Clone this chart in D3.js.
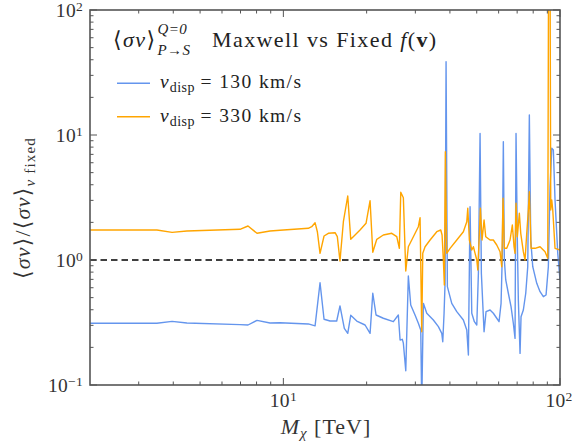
<!DOCTYPE html>
<html><head><meta charset="utf-8">
<script src="https://cdn.jsdelivr.net/npm/d3@7"></script>
<style>body{margin:0;background:#fff} text{white-space:pre}</style>
</head><body><svg id="c" width="574" height="446" xmlns="http://www.w3.org/2000/svg"></svg>
<script>
// ---- data ----
const massBlue = [2.00,3.49,3.96,4.48,6.97,7.45,8.03,8.95,9.72,12.31,13.02,13.57,14.03,14.75,15.59,16.02,16.61,17.09,17.52,18.42,19.74,20.58,21.05,21.63,22.98,24.98,26.04,26.42,26.92,27.15,27.70,28.30,28.87,29.92,30.76,31.38,31.64,32.07,32.99,34.85,36.34,37.38,37.69,38.10,38.42,38.74,39.16,40.62,42.35,44.74,46.03,46.65,47.30,47.98,49.03,50.03,50.70,51.41,51.97,53.15,54.04,55.87,57.42,59.07,60.21,61.23,61.89,62.40,62.92,63.66,65.05,66.53,67.81,68.78,69.35,70.11,70.70,71.71,72.30,73.70,75.19,76.45,77.48,78.40,79.71,82.41,84.70,87.06,89.04,90.76,92.06,93.37,94.62,95.95,98.15,100];
const ratioBlue = [0.312,0.312,0.323,0.313,0.304,0.302,0.329,0.313,0.315,0.308,0.297,0.658,0.336,0.325,0.325,0.429,0.284,0.259,0.361,0.325,0.302,0.259,0.542,0.363,0.342,0.321,0.363,0.229,0.232,0.216,0.130,0.745,0.437,0.363,0.312,0.275,0.07,0.450,0.375,0.331,0.293,0.259,0.222,0.375,0.655,38.6,0.612,0.450,0.386,0.331,0.275,0.174,2.67,0.375,0.321,0.302,0.783,10.3,0.783,0.267,0.386,0.398,0.375,0.342,0.321,0.450,1.13,8.84,1.0,0.692,0.542,0.423,0.312,0.236,10.3,1.445,0.479,0.179,0.352,0.398,0.542,0.884,14.45,1.445,0.884,0.651,0.558,0.509,0.525,0.884,3.86,7.83,7.59,3.02,1.13,0.692];
const massOrange = [2.00,3.49,3.96,4.48,6.97,7.45,8.03,8.95,9.72,12.31,12.66,13.02,13.27,13.57,14.03,14.54,15.38,15.67,16.02,16.48,17.09,17.52,18.16,18.93,19.90,20.58,21.05,21.76,22.98,24.65,25.70,26.26,26.57,27.15,27.70,28.30,29.51,30.76,31.20,31.64,31.91,32.53,33.91,35.86,37.07,37.47,37.88,38.19,38.51,38.96,40.05,42.35,44.74,46.03,46.41,47.03,47.98,48.63,49.32,50.03,50.45,51.12,51.54,52.27,53.15,53.90,55.87,57.42,59.07,60.72,61.58,62.25,62.92,64.19,65.98,67.25,68.21,68.78,69.35,70.11,71.29,72.13,73.70,74.76,75.82,76.84,77.48,78.60,81.26,84.70,88.30,90.31,90.91,92.06,92.59,93.37,94.15,95.95,100];
const ratioOrange = [1.738,1.738,1.665,1.706,1.760,1.871,1.635,1.706,1.729,1.793,1.847,1.988,1.684,1.131,1.556,1.635,1.653,1.536,0.982,2.025,3.251,1.464,1.585,1.738,1.966,2.982,1.152,1.464,1.585,1.635,1.536,1.240,3.480,3.151,0.817,1.277,1.536,1.847,2.180,0.267,1.131,1.277,1.445,1.684,1.738,1.585,1.0,0.631,7.35,1.131,1.240,1.445,1.684,2.025,2.592,1.445,1.202,1.277,1.131,1.0,0.832,1.635,2.592,1.445,2.089,1.536,1.445,1.445,1.318,1.165,0.884,3.116,1.240,1.240,1.445,1.905,1.277,1.131,2.842,1.536,2.363,1.635,1.165,1.0,1.635,2.512,3.519,1.240,1.240,1.277,1.165,1.032,200,200,2.512,3.020,2.512,1.240,1.202];
const xMajorTicks = [10, 100];
const xMinorTicks = [3,4,5,6,7,8,9,20,30,40,50,60,70,80,90];
const yMajorTicks = [0.1, 1, 10, 100];
const yMinorTicks = [0.2,0.3,0.4,0.5,0.6,0.7,0.8,0.9,2,3,4,5,6,7,8,9,20,30,40,50,60,70,80,90];
const legendValues = ["130", "330"];
const seriesColors = ["#6495ED", "#FFA500"];

// ---- layout ----
const L = 90, R = 560, T = 10, B = 385;
const FONT = "'Liberation Serif', 'DejaVu Serif', serif";
const svg = d3.select("#c");
const x = d3.scaleLog().domain([2, 100]).range([L, R]);
const y = d3.scaleLog().domain([0.1, 100]).range([B, T]);

svg.append("clipPath").attr("id", "clip").append("rect")
  .attr("x", L).attr("y", T).attr("width", R - L).attr("height", B - T);

const g = svg.append("g").attr("clip-path", "url(#clip)");
g.append("line").attr("x1", L).attr("x2", R).attr("y1", y(1)).attr("y2", y(1))
  .attr("stroke", "#000").attr("stroke-width", 1.3).attr("stroke-dasharray", "6.5,4");

const line = d3.line().x(d => x(d[0])).y(d => y(d[1]));
const blueData = massBlue.map((m, i) => [m, ratioBlue[i]]);
const orangeData = massOrange.map((m, i) => [m, ratioOrange[i]]);
g.append("path").datum(blueData).attr("d", line).attr("fill", "none")
  .attr("stroke", seriesColors[0]).attr("stroke-width", 1.4).attr("stroke-linejoin", "round");
g.append("path").datum(orangeData).attr("d", line).attr("fill", "none")
  .attr("stroke", seriesColors[1]).attr("stroke-width", 1.4).attr("stroke-linejoin", "round");

// ticks on all four sides, inward
const AX = "#555";
const tk = svg.append("g").attr("stroke", AX).attr("stroke-width", 1);
function xt(v, len) {
  tk.append("line").attr("x1", x(v)).attr("x2", x(v)).attr("y1", B).attr("y2", B - len);
  tk.append("line").attr("x1", x(v)).attr("x2", x(v)).attr("y1", T).attr("y2", T + len);
}
function yt(v, len) {
  tk.append("line").attr("y1", y(v)).attr("y2", y(v)).attr("x1", L).attr("x2", L + len);
  tk.append("line").attr("y1", y(v)).attr("y2", y(v)).attr("x1", R).attr("x2", R - len);
}
xMajorTicks.forEach(v => xt(v, 7));
xMinorTicks.forEach(v => xt(v, 3.5));
yMajorTicks.forEach(v => yt(v, 7));
yMinorTicks.forEach(v => yt(v, 3.5));

svg.append("rect").attr("x", L).attr("y", T).attr("width", R - L).attr("height", B - T)
  .attr("fill", "none").attr("stroke", AX).attr("stroke-width", 1.6);

// tick labels
const TC = "#333";
function expLabel(sel, v) {
  const e = Math.round(Math.log10(v));
  sel.append("tspan").text("10");
  sel.append("tspan").attr("font-size", 13.5).attr("dy", -6.5).text(e < 0 ? "\u2212" + (-e) : String(e));
}
yMajorTicks.forEach(v => {
  const t = svg.append("text").attr("x", 83).attr("y", y(v) + 7).attr("text-anchor", "end")
    .attr("font-family", FONT).attr("font-size", 19.5).attr("fill", TC).attr("letter-spacing", 0.3);
  expLabel(t, v);
});
xMajorTicks.forEach(v => {
  const t = svg.append("text").attr("x", Math.min(x(v), 559)).attr("y", 407).attr("text-anchor", "middle")
    .attr("font-family", FONT).attr("font-size", 19.5).attr("fill", TC).attr("letter-spacing", 0.3);
  expLabel(t, v);
});

// x axis label
const xl = svg.append("text").attr("x", 326).attr("y", 434).attr("text-anchor", "middle")
  .attr("font-family", FONT).attr("font-size", 22).attr("fill", TC).attr("letter-spacing", 1);
xl.append("tspan").attr("font-style", "italic").text("M");
xl.append("tspan").attr("font-style", "italic").attr("font-size", 15).attr("dy", 4).text("\u03C7");
xl.append("tspan").attr("dy", -4).text("\u00A0[TeV]");

// y axis label
const yl = svg.append("text").attr("transform", "translate(30,208) rotate(-90)").attr("text-anchor", "middle")
  .attr("font-family", FONT).attr("font-size", 22).attr("fill", TC).attr("letter-spacing", 1.2);
yl.append("tspan").text("\u27E8");
yl.append("tspan").attr("font-style", "italic").text("\u03C3v");
yl.append("tspan").text("\u27E9/\u27E8");
yl.append("tspan").attr("font-style", "italic").text("\u03C3v");
yl.append("tspan").text("\u27E9");
yl.append("tspan").attr("font-style", "italic").attr("font-size", 15).attr("dy", 5).text("v");
yl.append("tspan").attr("font-size", 15).text("\u00A0fixed");

// pieces of text placed one after another
function piece(txt, xx, yy, size, style, weight, ls) {
  const t = svg.append("text").attr("x", xx).attr("y", yy).attr("font-family", FONT)
    .attr("font-size", size).attr("fill", "#222").attr("letter-spacing", ls == null ? 1.4 : ls).text(txt);
  if (style) t.attr("font-style", style);
  if (weight) t.attr("font-weight", weight);
  return t.node().getComputedTextLength();
}

// title
const TF = 22;
let cx = 113;
const tBase = 47;
cx += piece("\u27E8", cx, tBase, TF);
cx += piece("\u03C3v", cx, tBase, TF, "italic");
cx += piece("\u27E9", cx, tBase, TF);
const w1 = piece("Q=0", cx + 1, tBase - 13.5, 15, "italic", null, 0.5);
const w2 = piece("P\u2192S", cx + 1, tBase + 8, 15, "italic", null, 0.5);
cx = Math.max(cx + 1 + Math.max(w1, w2) + 7, 212);
cx += piece("Maxwell\u00A0vs\u00A0Fixed\u00A0", cx, tBase, TF);
cx += piece("f", cx, tBase, TF, "italic");
cx += piece("(", cx, tBase, TF);
cx += piece("v", cx, tBase, TF, null, "bold");
cx += piece(")", cx, tBase, TF);

// legend
const legY = [83.3, 116.7];
legendValues.forEach((val, i) => {
  svg.append("line").attr("x1", 117).attr("x2", 150).attr("y1", legY[i]).attr("y2", legY[i])
    .attr("stroke", seriesColors[i]).attr("stroke-width", 1.4);
  let lx = 160;
  const base = legY[i] + 5;
  lx += piece("v", lx, base, 19.5, "italic", null, 0.5);
  lx += piece("disp", lx + 0.5, base + 4, 14, null, null, 0.5) + 6;
  piece("=\u00A0" + val + "\u00A0km/s", lx, base, 19.5, null, null, 1.4);
});
</script>
</body></html>
